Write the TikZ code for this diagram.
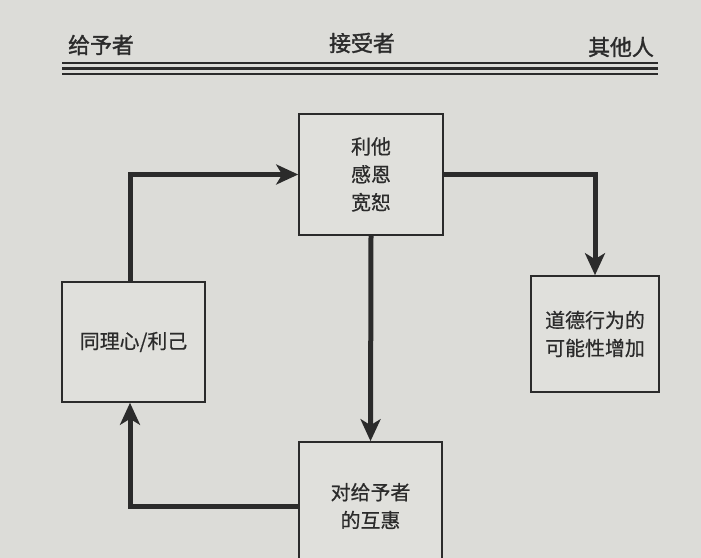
\documentclass[tikz,border=0pt]{standalone}
\usepackage{fontspec}
\newfontfamily\cjk[FakeBold=0.6]{Noto Sans CJK SC}
\newfontfamily\cjkhead[FakeBold=1.5]{Noto Sans CJK SC}
\usetikzlibrary{positioning, arrows.meta}
\definecolor{pBg}{HTML}{DCDCD8}
\definecolor{pBox}{HTML}{E0E0DC}
\definecolor{pInk}{HTML}{2B2B2B}

\begin{document}
\begin{tikzpicture}[
  x=1bp, y=-1bp,
  every node/.style={font=\cjk\fontsize{20}{28}\selectfont, text=pInk},
  box/.style={draw=pInk, fill=pBox, line width=1.6bp, align=center, inner sep=0pt},
  head/.style={font=\cjkhead\fontsize{22}{24}\selectfont},
  flow/.style={draw=pInk, line width=5bp, -{Stealth[length=22bp, width=20bp, inset=6bp]}},
]
  % Background
  \fill[pBg] (0,0) rectangle (701,558);
  \useasboundingbox (0,0) rectangle (701,558);

  % Header
  \node[head] (giver) at (101,45) {给予者};
  \node[head] (taker) at (362,43) {接受者};
  \node[head] (others) at (621,47) {其他人};
  \draw[pInk, line width=1.4bp] (62,63) -- (658,63);
  \draw[pInk, line width=2.6bp] (62,68.5) -- (658,68.5);
  \draw[pInk, line width=1.8bp] (62,74) -- (658,74);

  % Boxes
  \node[box, minimum width=144bp, minimum height=121bp] (altru) at (371,174.5) {利他\\感恩\\宽恕};
  \node[box, minimum width=143bp, minimum height=120bp] (self) at (133.5,342) {同理心/利己};
  \node[box, minimum width=143bp, minimum height=128bp] (recip) at (370.5,506) {对给予者\\的互惠};
  \node[box, minimum width=128bp, minimum height=116bp] (moral) at (595,334) {道德行为的\\可能性增加};

  % Arrows
  \draw[flow] ([xshift=-3.5bp]self.north) |- (altru.west);
  \draw[flow] (altru.east) -| (moral.north);
  \draw[flow] (altru.south) -- (recip.north);
  \draw[flow] (recip.west) -| ([xshift=-3.5bp]self.south);
\end{tikzpicture}
\end{document}
